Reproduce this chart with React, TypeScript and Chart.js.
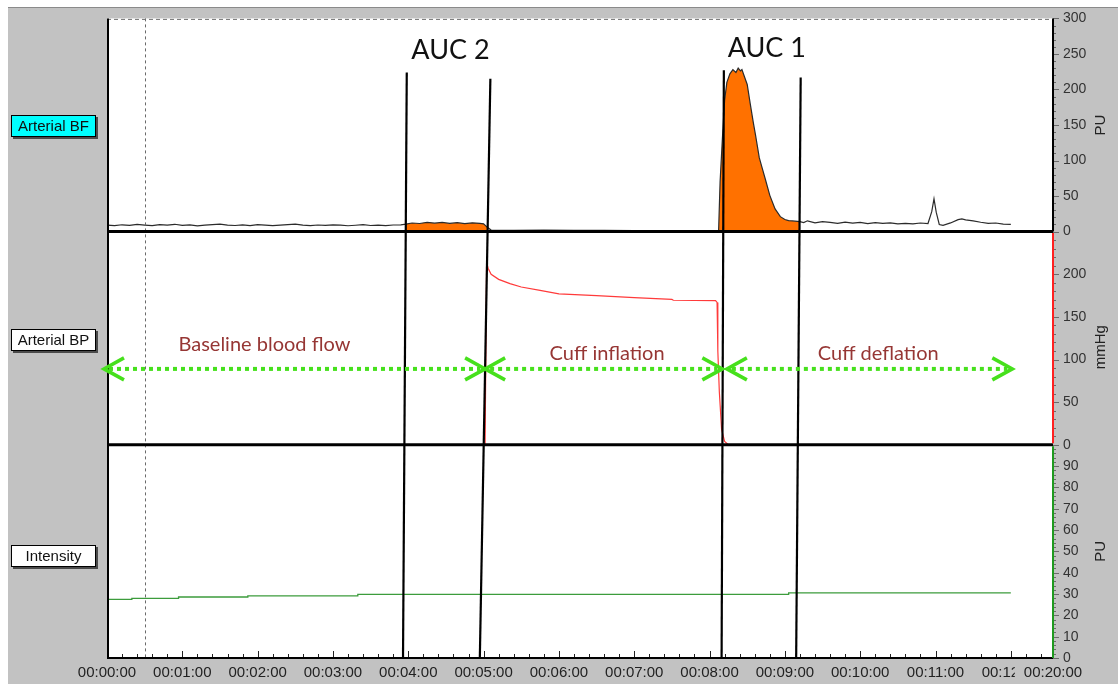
import React, { useEffect, useRef } from 'react';
import { Chart, registerables } from 'chart.js';

Chart.register(...registerables);

// ---------- axis / tick data ----------
const X_MAX = 12.56; // minutes shown on the time axis
const xTickMinutes = [0, 1, 2, 3, 4, 5, 6, 7, 8, 9, 10, 11, 12];
const xEndLabel = '00:20:00';

// ---------- Arterial BF (PU) ----------
const bfTime = [
  0, 0.1, 0.2, 0.3, 0.4, 0.5, 0.6, 0.7, 0.8, 0.9,
  1.0, 1.1, 1.2, 1.3, 1.4, 1.5, 1.6, 1.7, 1.8, 1.9,
  2.0, 2.1, 2.2, 2.3, 2.4, 2.5, 2.6, 2.7, 2.8, 2.9,
  3.0, 3.1, 3.2, 3.3, 3.4, 3.5, 3.6, 3.7, 3.8, 3.9,
  3.97, 4.05, 4.15, 4.25, 4.35, 4.45, 4.55, 4.65, 4.75, 4.85,
  4.95, 5.0, 5.05, 5.1, 5.4, 5.8, 6.2, 6.6, 7.0, 7.4,
  7.6, 7.8, 8.0, 8.1, 8.12, 8.14, 8.17, 8.2, 8.23, 8.27,
  8.31, 8.35, 8.38, 8.41, 8.43, 8.46, 8.5, 8.54, 8.58, 8.61,
  8.66, 8.7, 8.74, 8.8, 8.87, 8.94, 9.0, 9.05, 9.1, 9.2,
  9.25, 9.3, 9.4, 9.5, 9.6, 9.7, 9.8, 9.9, 10.0, 10.1,
  10.2, 10.3, 10.4, 10.5, 10.6, 10.7, 10.8, 10.9, 10.95, 10.98,
  11.01, 11.05, 11.1, 11.2, 11.3, 11.35, 11.4, 11.5, 11.6, 11.7,
  11.8, 11.9, 12.0,
];
const bfValue = [
  9.0, 8.4, 9.6, 8.8, 10.1, 9.2, 8.5, 9.9, 9.0, 10.3,
  8.7, 9.4, 8.2, 9.0, 9.7, 10.4, 9.1, 8.6, 9.5, 8.5,
  9.9, 9.2, 8.4, 9.1, 9.8, 10.4, 9.0, 8.3, 9.3, 8.8,
  9.6, 9.0, 8.2, 8.9, 9.7, 8.6, 9.2, 8.5, 9.3, 9.5,
  10.6, 12.1, 11.4, 13.0, 11.8, 12.9, 11.5, 12.6, 11.2, 12.3,
  11.6, 10.9, 6.0, 2.2, 1.8, 2.0, 1.6, 1.8, 1.5, 1.2,
  0.8, 0.3, 0.2, 0.4, 0.5, 70, 130, 185, 210, 222,
  228, 224, 230, 226, 228, 219, 207, 180, 154, 136,
  104, 89, 74, 51, 32, 21, 17, 15.5, 15, 14,
  12.8, 15.2, 12.4, 14.1, 12.9, 11.6, 13.4, 12.0, 13.1, 11.2,
  12.6, 11.7, 12.4, 11.0, 11.6, 10.8, 12.1, 11.4, 28, 46,
  27, 10, 8.8, 12.2, 16.8, 18, 16.4, 15.1, 13.2, 11.6,
  12.1, 10.6, 10.2,
];

// areas under the curve (minutes)
const auc2Range = [3.97, 5.05];
const auc1Range = [8.12, 9.2];

// ---------- Arterial BP (mmHg) ----------
const bpTime = [0, 5.02, 5.04, 5.06, 5.1, 5.2, 5.35, 5.5, 5.75, 6.0, 6.5, 7.0, 7.5, 7.52, 8.08, 8.1, 8.11, 8.13, 8.16, 8.2, 8.25, 12.0];
const bpValue = [0, 0, 214, 207, 200, 194, 189, 185, 181, 177, 175, 172.5, 170.5, 169.5, 169, 167, 110, 62, 18, 4, 0, 0];

// ---------- Intensity (PU) ----------
const intensityTime = [0, 0.33, 0.95, 1.87, 3.33, 9.05, 12.0];
const intensityValue = [27.5, 28.0, 28.6, 29.1, 29.8, 30.5, 30.5];

// ---------- annotations ----------
const cursorTime = 0.5;
const aucLineTopTime = [3.98, 5.09, 8.19, 9.21];
const aucLineTopValue = [224, 215, 227, 217];
const aucLineBottomTime = [3.93, 4.95, 8.16, 9.15];

const aucLabels = ['AUC 2', 'AUC 1'];
const aucLabelTime = [4.56, 8.76];
const aucLabelValue = [255, 258];

const phaseLabels = ['Baseline blood flow', 'Cuff inflation', 'Cuff deflation'];
const phaseLabelTime = [2.09, 6.64, 10.24];
const phaseLabelValue = [117, 107, 107];
const phaseArrowStart = [-0.04, 5.02, 8.23];
const phaseArrowEnd = [5.02, 8.17, 12.02];
const phaseArrowValue = 89;

const channelNames = ['Arterial BF', 'Arterial BP', 'Intensity'];
const channelUnits = ['PU', 'mmHg', 'PU'];

// ---------- styling ----------
const BG = '#c2c2c2';
const SANS = '"Liberation Sans", Arial, sans-serif';
const HUMAN = 'Lato, "Open Sans", sans-serif';
const GREEN = '#46e01c';
const DARKRED = '#963634';
const ORANGE = '#ff7100';

const pad2 = (n: number) => (n < 10 ? '0' + n : '' + n);
const toPoints = (ts: number[], vs: number[]) => ts.map((t, i) => ({ x: t, y: vs[i] }));
const inRange = (r: number[]) => toPoints(bfTime, bfValue).filter((p) => p.x >= r[0] - 1e-9 && p.x <= r[1] + 1e-9);

function seg(ctx: CanvasRenderingContext2D, x1: number, y1: number, x2: number, y2: number) {
  ctx.beginPath();
  ctx.moveTo(x1, y1);
  ctx.lineTo(x2, y2);
  ctx.stroke();
}

const overlay = {
  id: 'overlay',
  beforeDraw(chart: any) {
    const { ctx, width, height, chartArea: a } = chart;
    ctx.save();
    ctx.fillStyle = BG;
    ctx.fillRect(0, 0, width, height);
    ctx.fillStyle = '#ffffff';
    ctx.fillRect(0, 0, width, 7);
    ctx.fillRect(0, 0, 8, height);
    ctx.fillStyle = '#8a8a8a';
    ctx.fillRect(8, 7, width - 8, 1);
    ctx.fillStyle = '#ffffff';
    ctx.fillRect(a.left, a.top, a.right - a.left, a.bottom - a.top);
    ctx.restore();
  },
  afterDraw(chart: any) {
    const { ctx, chartArea: a } = chart;
    const x = chart.scales.x;
    const yT = chart.scales.yTop;
    const yM = chart.scales.yMid;
    const yB = chart.scales.yBot;
    ctx.save();

    // cursor dashed line
    const cx = Math.round(x.getPixelForValue(cursorTime)) + 0.5;
    ctx.strokeStyle = '#6a6a6a';
    ctx.lineWidth = 1;
    ctx.setLineDash([3, 3]);
    seg(ctx, cx, a.top, cx, a.bottom);
    // dashed top border
    ctx.strokeStyle = '#707070';
    ctx.setLineDash([4, 3]);
    seg(ctx, a.left, a.top + 1, a.right, a.top + 1);
    ctx.setLineDash([]);

    // x ticks (inward)
    ctx.strokeStyle = '#222';
    ctx.lineWidth = 1;
    const nMinor = Math.floor(X_MAX / 0.2 + 1e-6);
    for (let k = 0; k <= nMinor; k++) {
      const v = k * 0.2;
      const major = k % 5 === 0;
      const px = Math.round(x.getPixelForValue(v)) + 0.5;
      seg(ctx, px, a.bottom, px, a.bottom - (major ? 7 : 4));
    }

    // y ticks (outward, right side)
    const yTickSpecs: [any, number, number][] = [
      [yT, 10, 50],
      [yM, 10, 50],
      [yB, 2, 10],
    ];
    ctx.strokeStyle = '#6a6a6a';
    for (const [s, minor, major] of yTickSpecs) {
      for (let v = s.min; v <= s.max + 1e-9; v += minor) {
        const py = Math.round(s.getPixelForValue(v)) + 0.5;
        const isMajor = Math.abs(v / major - Math.round(v / major)) < 1e-6;
        seg(ctx, a.right, py, a.right + (isMajor ? 6 : 3), py);
      }
    }

    // AUC boundary lines
    ctx.strokeStyle = '#000';
    ctx.lineWidth = 2.2;
    for (let i = 0; i < aucLineTopTime.length; i++) {
      seg(
        ctx,
        x.getPixelForValue(aucLineTopTime[i]),
        yT.getPixelForValue(aucLineTopValue[i]),
        x.getPixelForValue(aucLineBottomTime[i]),
        yB.getPixelForValue(0)
      );
    }

    // panel frame
    ctx.strokeStyle = '#000';
    ctx.lineWidth = 2;
    seg(ctx, a.left + 1, a.top, a.left + 1, a.bottom);
    seg(ctx, a.left, a.bottom, a.right, a.bottom);
    ctx.lineWidth = 3;
    seg(ctx, a.left, yT.bottom, a.right, yT.bottom);
    seg(ctx, a.left, yM.bottom, a.right, yM.bottom);
    ctx.lineWidth = 2;
    ctx.strokeStyle = '#000';
    seg(ctx, a.right, yT.top, a.right, yT.bottom);
    ctx.strokeStyle = '#ff2020';
    seg(ctx, a.right, yM.top + 1.5, a.right, yM.bottom - 1.5);
    ctx.strokeStyle = '#1f9a1f';
    seg(ctx, a.right, yB.top + 1.5, a.right, yB.bottom);

    // AUC labels
    ctx.fillStyle = '#111';
    ctx.font = `27px ${HUMAN}`;
    ctx.textAlign = 'center';
    ctx.textBaseline = 'middle';
    aucLabels.forEach((t, i) => {
      ctx.fillText(t, x.getPixelForValue(aucLabelTime[i]), yT.getPixelForValue(aucLabelValue[i]));
    });

    // phase arrows
    const ay = yM.getPixelForValue(phaseArrowValue);
    for (let i = 0; i < phaseArrowStart.length; i++) {
      const x1 = x.getPixelForValue(phaseArrowStart[i]);
      const x2 = x.getPixelForValue(phaseArrowEnd[i]);
      ctx.strokeStyle = GREEN;
      ctx.lineWidth = 4;
      ctx.setLineDash([4, 4]);
      ctx.lineCap = 'butt';
      seg(ctx, x1 + 5, ay, x2 - 5, ay);
      ctx.setLineDash([]);
      ctx.lineWidth = 3.5;
      ctx.beginPath();
      ctx.moveTo(x1 + 20, ay - 11);
      ctx.lineTo(x1, ay);
      ctx.lineTo(x1 + 20, ay + 11);
      ctx.stroke();
      ctx.beginPath();
      ctx.moveTo(x2 - 20, ay - 11);
      ctx.lineTo(x2, ay);
      ctx.lineTo(x2 - 20, ay + 11);
      ctx.stroke();
    }

    // phase labels
    ctx.fillStyle = DARKRED;
    ctx.font = `20px ${HUMAN}`;
    phaseLabels.forEach((t, i) => {
      ctx.fillText(t, x.getPixelForValue(phaseLabelTime[i]), yM.getPixelForValue(phaseLabelValue[i]));
    });

    // channel name boxes (left)
    const panels = [yT, yM, yB];
    const boxFill = ['#00ffff', '#ffffff', '#ffffff'];
    const boxOffset = [1, 2, 5];
    ctx.font = `15px ${SANS}`;
    panels.forEach((s, i) => {
      const cy = (s.top + s.bottom) / 2 + boxOffset[i];
      const bx = 11, bw = 85, bh = 22;
      const by = Math.round(cy - bh / 2);
      ctx.fillStyle = '#4a4a4a';
      ctx.fillRect(bx + 2, by + 2, bw, bh);
      ctx.fillStyle = boxFill[i];
      ctx.fillRect(bx, by, bw, bh);
      ctx.strokeStyle = '#000';
      ctx.lineWidth = 1;
      ctx.strokeRect(bx + 0.5, by + 0.5, bw - 1, bh - 1);
      ctx.fillStyle = '#111';
      ctx.textAlign = 'center';
      ctx.textBaseline = 'middle';
      ctx.fillText(channelNames[i], bx + bw / 2, by + bh / 2 + 1);
    });

    // unit titles (rotated, reading upwards)
    ctx.fillStyle = '#222';
    ctx.font = `15px ${SANS}`;
    panels.forEach((s, i) => {
      const cy = (s.top + s.bottom) / 2 + (i === 1 ? 9 : 0);
      ctx.save();
      ctx.translate(1101, cy);
      ctx.rotate(-Math.PI / 2);
      ctx.textAlign = 'center';
      ctx.textBaseline = 'middle';
      ctx.fillText(channelUnits[i], 0, 0);
      ctx.restore();
    });

    ctx.restore();
  },
};

function yAxis(max: number, step: number, hideMax: boolean) {
  return {
    type: 'linear',
    position: 'right',
    stack: 'panels',
    stackWeight: 1,
    min: 0,
    max,
    grid: { display: false, drawTicks: false },
    border: { display: false },
    ticks: {
      stepSize: step,
      autoSkip: false,
      padding: 10,
      color: '#333',
      font: { family: SANS, size: 14 },
      callback: (v: number) => (hideMax && v === max ? '' : String(v)),
    },
    afterFit: (s: any) => {
      s.width = 65;
    },
  };
}

export default function App() {
  const ref = useRef<HTMLCanvasElement | null>(null);
  useEffect(() => {
    if (!ref.current) return;
    const chart = new Chart(ref.current, {
      type: 'line',
      data: {
        datasets: [
          {
            label: channelNames[0],
            data: toPoints(bfTime, bfValue),
            yAxisID: 'yTop',
            borderColor: '#2b2b2b',
            borderWidth: 1.2,
            pointRadius: 0,
            fill: false,
          },
          {
            label: channelNames[1],
            data: toPoints(bpTime, bpValue),
            yAxisID: 'yMid',
            borderColor: '#ff3a3a',
            borderWidth: 1.2,
            pointRadius: 0,
            fill: false,
          },
          {
            label: channelNames[2],
            data: toPoints(intensityTime, intensityValue),
            yAxisID: 'yBot',
            borderColor: '#3c9c3c',
            borderWidth: 1.3,
            stepped: 'before',
            pointRadius: 0,
            fill: false,
          },
          {
            label: 'AUC 2',
            data: inRange(auc2Range),
            yAxisID: 'yTop',
            borderColor: 'rgba(0,0,0,0)',
            backgroundColor: ORANGE,
            pointRadius: 0,
            fill: 'origin',
          },
          {
            label: 'AUC 1',
            data: inRange(auc1Range),
            yAxisID: 'yTop',
            borderColor: 'rgba(0,0,0,0)',
            backgroundColor: ORANGE,
            pointRadius: 0,
            fill: 'origin',
          },
        ],
      },
      options: {
        animation: false,
        responsive: false,
        layout: { padding: { left: 107, top: 16, right: 0, bottom: 0 } },
        plugins: { legend: { display: false }, tooltip: { enabled: false } },
        scales: {
          x: {
            type: 'linear',
            min: 0,
            max: X_MAX,
            grid: { display: false, drawTicks: false },
            border: { display: false },
            afterBuildTicks: (s: any) => {
              s.ticks = [...xTickMinutes, X_MAX].map((v) => ({ value: v }));
            },
            ticks: {
              autoSkip: false,
              maxRotation: 0,
              minRotation: 0,
              padding: 6,
              color: '#222',
              font: { family: SANS, size: 15 },
              showLabelBackdrop: (c: any) => c.tick && c.tick.value === X_MAX,
              backdropColor: BG,
              backdropPadding: { left: 9, right: 0, top: 0, bottom: 0 },
              callback: (v: number) => (v === X_MAX ? xEndLabel : `00:${pad2(Math.round(v))}:00`),
            },
            afterFit: (s: any) => {
              s.height = 26;
            },
          },
          yTop: yAxis(300, 50, false),
          yMid: yAxis(250, 50, true),
          yBot: yAxis(100, 10, true),
        },
      } as any,
      plugins: [overlay],
    } as any);
    return () => chart.destroy();
  }, []);
  return (
    <div style={{ position: 'absolute', left: 0, top: 0, width: 1118, height: 684, background: BG }}>
      <canvas ref={ref} width={1118} height={684} style={{ display: 'block' }} />
    </div>
  );
}
